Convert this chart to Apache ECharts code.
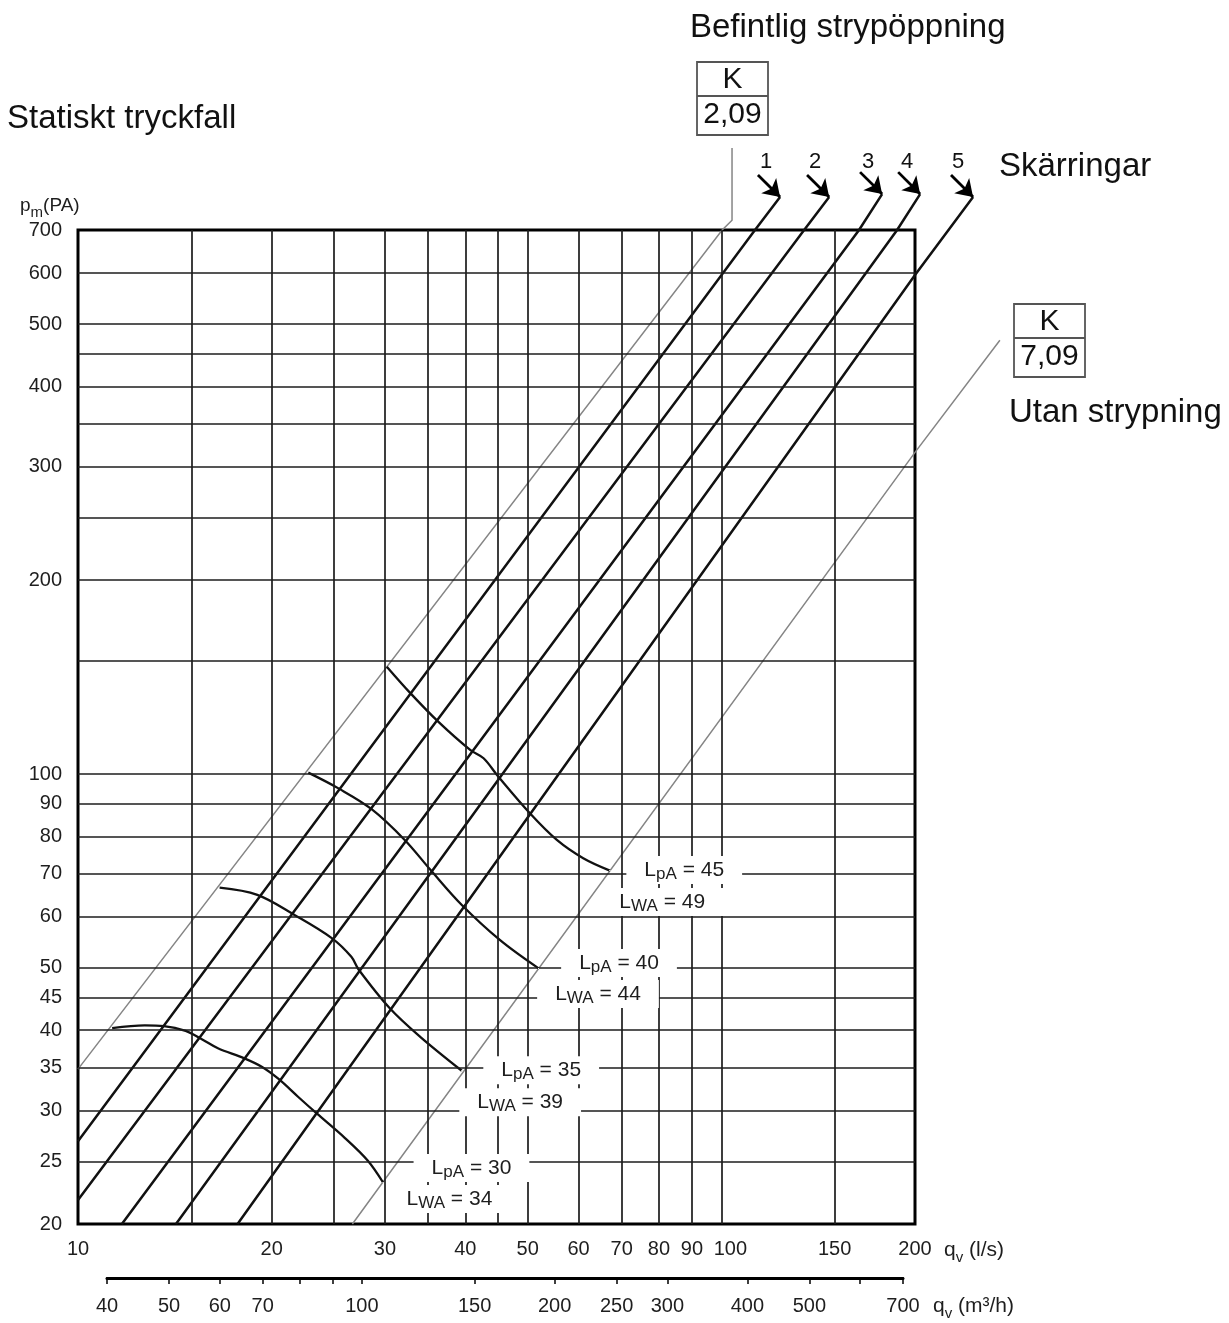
<!DOCTYPE html>
<html><head><meta charset="utf-8">
<script src="https://cdn.jsdelivr.net/npm/echarts@6/dist/echarts.min.js"></script>
<style>html,body{margin:0;padding:0;background:#fff}#c{width:1229px;height:1323px}</style>
</head><body><div id="c"></div>
<script>
const FONT = '"Liberation Sans", Arial, Helvetica, sans-serif';

// ---- axis values (q in l/s, p in Pa, lower axis in m3/h) ----
const xGridValues = [15,20,25,30,35,40,45,50,60,70,80,90,100,150];
const xLabelValues = [10,20,30,40,50,60,70,80,90,100,150,200];
const yGridValues = [25,30,35,40,45,50,60,70,80,90,100,150,200,250,300,350,400,450,500,600];
const yLabelValues = [20,25,30,35,40,45,50,60,70,80,90,100,200,300,400,500,600,700];
const m3hTickValues = [40,50,60,70,80,90,100,150,200,250,300,400,500,600,700];
const m3hLabelValues = [40,50,60,70,100,150,200,250,300,400,500,700];

// ---- K lines ----
const kLine209 = [[10,34.8],[100.3,700],[103.9,725],[103.9,939]];
const kLine709 = [[26.7,20],[200,316],[271,472]];
const kValues = ['2,09','7,09'];

// ---- orifice rings (Skärringar) 1..5 ----
const ring1 = [[10,26.9],[112.8,700],[123.4,788]];
const ring2 = [[10,21.8],[134.5,700],[147.1,788]];
const ring3 = [[11.7,20],[163.7,700],[177.8,796]];
const ring4 = [[14.2,20],[187.6,700],[203.7,796]];
const ring5 = [[17.7,20],[200,596],[246.2,788]];
const ringNames = ['1','2','3','4','5'];
const ringArrowStart = [[114,852],[135.9,852],[164.3,861],[188.3,861],[227.5,852]];

// ---- sound level curves ----
const lpa30 = [[11.3,40.3],[12.7,40.7],[13.6,40.6],[14.7,39.9],[15.6,38.7],[16.5,37.5],[18.1,36.2],[19.3,35.1],[20.5,33.6],[22,31.5],[23.5,29.7],[26,27.2],[28.2,25.1],[29.8,23.2]];
const lpa35 = [[16.6,66.6],[19.0,64.9],[21.7,60.4],[24.8,55.6],[26.6,52.0],[27.3,49.7],[30.5,43.3],[34.0,39.1],[39.5,34.6]];
const lpa40 = [[22.8,100.5],[25.4,95.0],[28.6,88.2],[32.2,79.0],[35.3,71.0],[39.5,62.6],[45.3,55.2],[52.0,49.9]];
const lpa45 = [[30.2,146.8],[32.8,133.8],[36.3,120.6],[40.7,109.0],[42.7,105.8],[45.0,99.1],[50.4,86.9],[55.5,79.0],[61.0,74.0],[67.1,70.8]];
const lpaValues = [30,35,40,45];
const lwaValues = [34,39,44,49];

// ---------------------------------------------------------------
const INK = '#111';
const TXT = '#1e1e1e';
const rings = [ring1, ring2, ring3, ring4, ring5];
const curves = [lpa30, lpa35, lpa40, lpa45];

// label placement (pixels relative to curve end point)
const lpaPos = [[49,-14],[40,0],[41,-5],[35,0]];
const lwaPos = [[24,17],[16,32],[17,26],[10,32]];

const subRich = {
  L:{fontSize:21, color:TXT, lineHeight:26, fontFamily:FONT},
  s:{fontSize:17, color:TXT, lineHeight:10, verticalAlign:'bottom', fontFamily:FONT},
  t:{fontSize:21, color:TXT, lineHeight:26, fontFamily:FONT}
};

function labelItem(pt, text, pos){
  return {
    value: pt,
    label: {
      show:true, position:[pos[0]-18, pos[1]], align:'left', verticalAlign:'middle', opacity:1,
      formatter:text, backgroundColor:'#fff', padding:[1,18], rich:subRich
    }
  };
}

const series = [];
// grid lines
series.push({
  type:'line', xAxisIndex:0, yAxisIndex:0, data:[[10,20]], symbol:'none', silent:true, z:1,
  lineStyle:{opacity:0},
  markLine:{
    silent:true, symbol:['none','none'], label:{show:false}, animation:false,
    lineStyle:{color:'#1c1c1c', width:1.7, type:'solid'},
    emphasis:{disabled:true},
    data: xGridValues.map(v=>({xAxis:v})).concat(yGridValues.map(v=>({yAxis:v})))
  }
});
// K lines (thin grey)
series.push({
  type:'lines', coordinateSystem:'cartesian2d', xAxisIndex:0, yAxisIndex:0, polyline:true, clip:false, silent:true, z:3,
  lineStyle:{color:'#858585', width:1.5, opacity:1},
  data:[kLine209, kLine709].map((d,i)=>({name:'K '+kValues[i], coords:d}))
});
// rings
series.push({
  type:'lines', coordinateSystem:'cartesian2d', xAxisIndex:0, yAxisIndex:0, polyline:true, clip:false, silent:true, z:3,
  lineStyle:{color:INK, width:2.5, opacity:1},
  data: rings.map((d,i)=>({name:ringNames[i], coords:d}))
});
// arrows to rings
series.push({
  type:'lines', coordinateSystem:'cartesian2d', xAxisIndex:0, yAxisIndex:0, clip:false, silent:true, z:4,
  symbol:['none','arrow'], symbolSize:[12,16],
  lineStyle:{color:'#000', width:2.8, opacity:1, curveness:0},
  data: rings.map((d,i)=>({coords:[ringArrowStart[i], d[d.length-1]]}))
});
// sound curves
curves.forEach((d,i)=>series.push({
  type:'line', name:'LpA '+lpaValues[i], xAxisIndex:0, yAxisIndex:0, data:d, symbol:'none', smooth:0.35, silent:true, z:3,
  lineStyle:{color:INK, width:2.3}
}));
// curve labels
[lpaValues, lwaValues].forEach((vals, k)=>series.push({
  type:'scatter', xAxisIndex:0, yAxisIndex:0, symbolSize:1, silent:true, z:6,
  itemStyle:{color:'#fff', opacity:1},
  data: curves.map((d,i)=>labelItem(d[d.length-1],
      (k===0 ? '{L|L}{s|pA}{t| = ' : '{L|L}{s|WA}{t| = ') + vals[i] + '}', k===0 ? lpaPos[i] : lwaPos[i]))
}));
// dummy for lower axis grid
series.push({type:'line', xAxisIndex:1, yAxisIndex:1, data:[], symbol:'none'});

function txt(x,y,text,size,extra){
  return Object.assign({type:'text', x:x, y:y, silent:true, z:10,
    style:{text:text, fill:'#111', font:size+'px '+FONT, textAlign:'left', textVerticalAlign:'middle'}}, extra||{});
}
function kBox(x,y,val){
  return {type:'group', x:x, y:y, silent:true, children:[
    {type:'rect', shape:{x:0,y:0,width:71,height:73}, style:{fill:'#fff', stroke:'#555', lineWidth:1.8}},
    {type:'line', shape:{x1:0,y1:34,x2:71,y2:34}, style:{stroke:'#555', lineWidth:1.8}},
    {type:'text', x:35.5, y:18, style:{text:'K', fill:'#111', font:'30px '+FONT, textAlign:'center', textVerticalAlign:'middle'}},
    {type:'text', x:35.5, y:53, style:{text:val, fill:'#111', font:'30px '+FONT, textAlign:'center', textVerticalAlign:'middle'}}
  ]};
}
const subStyle = (big, small, drop) => ({
  a:{fontSize:big, fill:TXT, fontFamily:FONT, lineHeight:big+10},
  b:{fontSize:small, fill:TXT, fontFamily:FONT, lineHeight:drop, verticalAlign:'bottom'}
});

const graphic = [
  txt(7,119,'Statiskt tryckfall',33),
  txt(690,28,'Befintlig strypöppning',33),
  txt(999,167,'Skärringar',33),
  txt(1009,413,'Utan strypning',33),
  kBox(697,62,kValues[0]),
  kBox(1014,304,kValues[1]),
  {type:'text', x:20, y:206, silent:true, style:{text:'{a|p}{b|m}{a|(PA)}', rich:subStyle(19,15,10), textVerticalAlign:'middle'}},
  {type:'text', x:944, y:1250, silent:true, style:{text:'{a|q}{b|v}{a| (l/s)}', rich:subStyle(21,15,12), textVerticalAlign:'middle'}},
  {type:'text', x:933, y:1306, silent:true, style:{text:'{a|q}{b|v}{a| (m³/h)}', rich:subStyle(21,15,12), textVerticalAlign:'middle'}}
].concat(ringNames.map((n,i)=>txt([760,809,862,901,952][i],162,n,22)));

const option = {
  animation:false,
  backgroundColor:'#fff',
  textStyle:{fontFamily:FONT},
  grid:[
    {left:78, top:230, width:837, height:994, show:true, borderColor:'#000', borderWidth:3, backgroundColor:'rgba(0,0,0,0)'},
    {left:107, top:1277, width:796, height:1, show:false}
  ],
  xAxis:[
    {type:'log', gridIndex:0, min:10, max:200, logBase:10,
     axisLine:{show:false}, axisTick:{show:false}, splitLine:{show:false}, minorTick:{show:false}, minorSplitLine:{show:false},
     axisLabel:{customValues:xLabelValues, fontSize:20, color:TXT, margin:15, fontFamily:FONT,
       formatter:v=> (Math.round(v)===100 ? '{r|100}' : String(Math.round(v))),
       rich:{r:{padding:[0,0,0,18], fontSize:20, color:TXT, fontFamily:FONT}}}},
    {type:'log', gridIndex:1, min:40, max:700, logBase:10,
     axisLine:{show:true, lineStyle:{color:'#000', width:3}},
     axisTick:{show:true, customValues:m3hTickValues, length:6, lineStyle:{color:'#000', width:1.5}},
     splitLine:{show:false}, minorSplitLine:{show:false},
     axisLabel:{customValues:m3hLabelValues, fontSize:20, color:TXT, margin:18, fontFamily:FONT, formatter:v=>String(Math.round(v))}},
    {type:'log', gridIndex:1, min:40, max:700, logBase:10,
     axisLine:{show:false},
     axisTick:{show:true, inside:true, customValues:m3hTickValues, length:6, lineStyle:{color:'#000', width:1.5}},
     splitLine:{show:false}, axisLabel:{show:false}}
  ],
  yAxis:[
    {type:'log', gridIndex:0, min:20, max:700, logBase:10,
     axisLine:{show:false}, axisTick:{show:false}, splitLine:{show:false}, minorSplitLine:{show:false},
     axisLabel:{customValues:yLabelValues, fontSize:20, color:TXT, margin:16, fontFamily:FONT, formatter:v=>String(Math.round(v))}},
    {type:'value', gridIndex:1, show:false}
  ],
  graphic: graphic,
  series: series
};

const chart = echarts.init(document.getElementById('c'), null, {renderer:'canvas', width:1229, height:1323});
chart.setOption(option);
</script>
</body></html>
